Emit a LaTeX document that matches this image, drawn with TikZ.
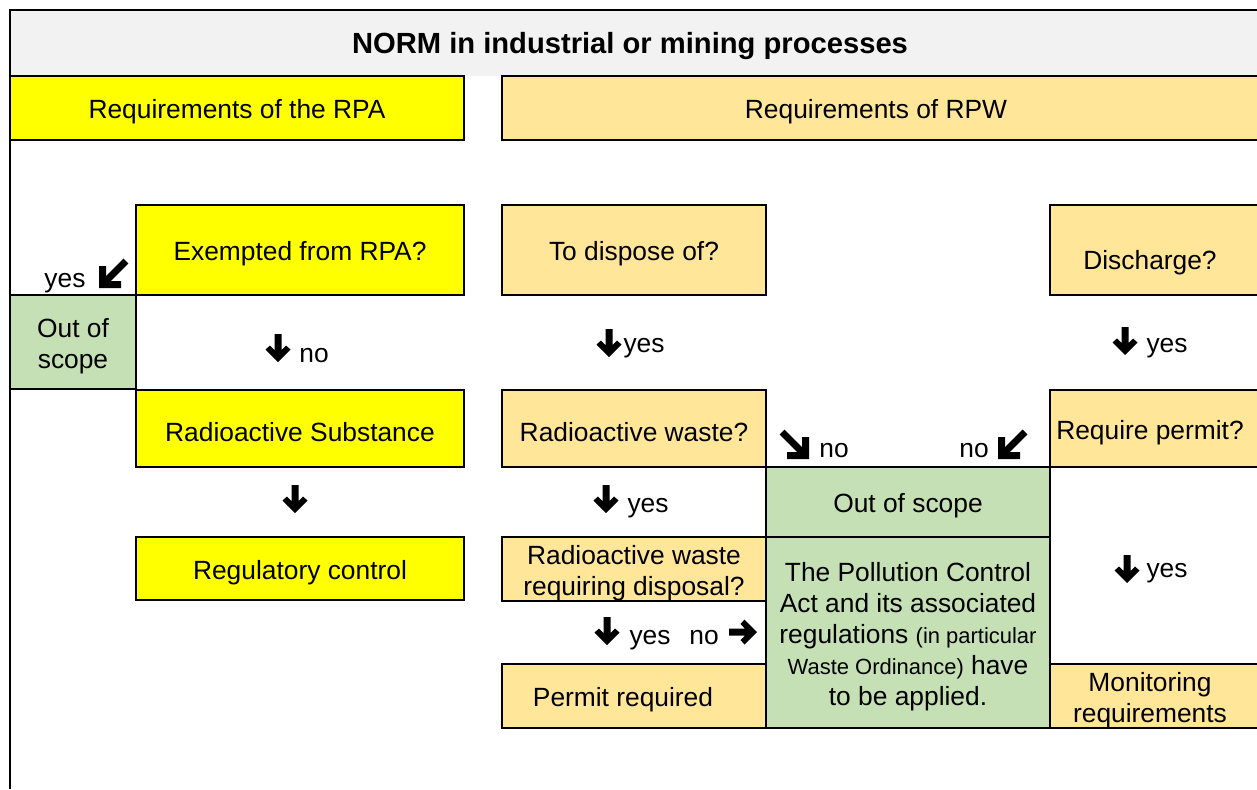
\documentclass[tikz,border=0pt]{standalone}
\usepackage{fontspec}
\setmainfont{Liberation Sans}

\definecolor{rpayellow}{HTML}{FFFF00}
\definecolor{rpworange}{HTML}{FFE699}
\definecolor{scopegreen}{HTML}{C5E0B4}
\definecolor{titlegrey}{HTML}{F2F2F2}

\newcommand{\toppad}{\rule{0pt}{15.4pt}}

\begin{document}
\begin{tikzpicture}[x=0.02cm, y=-0.02cm,
    cell/.style={draw, line width=1.1pt, inner sep=0pt, align=center, font=\fontsize{15}{17.6}\selectfont},
    rpa/.style={cell, fill=rpayellow},
    rpw/.style={cell, fill=rpworange},
    outscope/.style={cell, fill=scopegreen},
    lbl/.style={inner sep=0pt, anchor=base, font=\fontsize{15}{17.6}\selectfont},
    downarrow/.pic={\fill (0,0) -- (12.5,-12.5) -- (8,-16.5) -- (3.5,-12) -- (3.5,-28) -- (-3.5,-28) -- (-3.5,-12) -- (-8,-16.5) -- (-12.5,-12.5) -- cycle;},
    cornerarrow/.pic={\fill (0,0) -- (0,-22) -- (7,-22) -- (7,-7) -- (22,-7) -- (22,0) -- cycle;
        \draw[line width=0.14cm] (4,-4) -- (27,-27);}
]
    \useasboundingbox (0,0) rectangle (1257,789);
    \clip (0,0) rectangle (1257,789);

    % Title band and frame
    \fill[titlegrey] (10,10) rectangle (1262,76);
    \node[font=\bfseries\fontsize{16.6}{20}\selectfont] (title) at (630,46) {NORM in industrial or mining processes};
    \draw[line width=1.1pt] (10,789) -- (10,10) -- (1262,10);

    % Headers
    \node[rpa, minimum width=9.08cm, minimum height=1.28cm] (rpahead) at (237,108) {\toppad Requirements of the RPA};
    \node[rpw, minimum width=15.2cm, minimum height=1.28cm] (rpwhead) at (882,108) {\toppad\hspace*{-0.24cm}Requirements of RPW};

    % RPA column
    \node[rpa, minimum width=6.56cm, minimum height=1.8cm] (exempt) at (300,250) {\toppad Exempted from RPA?};
    \node[outscope, minimum width=2.52cm, minimum height=1.88cm] (outleft) at (73,342) {\toppad Out of\\scope};
    \node[rpa, minimum width=6.56cm, minimum height=1.54cm] (substance) at (300,428.5) {\toppad Radioactive Substance};
    \node[rpa, minimum width=6.56cm, minimum height=1.26cm] (regcontrol) at (300,568.5) {\toppad Regulatory control};

    \node[lbl] (yesexempt) at (65,287) {yes};
    \pic at (99,288) {cornerarrow};
    \pic at (278,362) {downarrow};
    \node[lbl] (noexempt) at (314,362) {no};
    \pic at (295,513) {downarrow};

    % RPW, disposal column
    \node[rpw, minimum width=5.28cm, minimum height=1.8cm] (dispose) at (634,250) {\toppad To dispose of?};
    \node[rpw, minimum width=5.28cm, minimum height=1.54cm] (waste) at (634,428.5) {\toppad Radioactive waste?};
    \node[rpw, minimum width=5.28cm, minimum height=1.28cm] (disposal) at (634,569) {\toppad Radioactive waste\\requiring disposal?};
    \node[rpw, minimum width=5.28cm, minimum height=1.28cm] (permit) at (634,696) {\toppad\hspace*{-0.44cm}Permit required};

    \pic at (609,357) {downarrow};
    \node[lbl] (yesdispose) at (644,352) {yes};
    \pic at (606,513) {downarrow};
    \node[lbl] (yeswaste) at (648,512) {yes};
    \pic at (607,645) {downarrow};
    \node[lbl] (yesdisposal) at (650,644) {yes};
    \node[lbl] (nodisposal) at (704,644) {no};
    \pic[rotate=90] at (757,632) {downarrow};

    % Middle column
    \node[outscope, minimum width=5.68cm, minimum height=1.4cm] (outmid) at (908,502) {\toppad Out of scope};
    \node[outscope, minimum width=5.68cm, minimum height=3.82cm] (pollution) at (908,632.5)
        {\toppad The Pollution Control\\Act and its associated\\regulations {\fontsize{12.5}{17.6}\selectfont(in particular}\\{\fontsize{12.5}{17.6}\selectfont Waste Ordinance)} have\\to be applied.};

    \pic[xscale=-1] at (809,459) {cornerarrow};
    \node[lbl] (nowaste) at (834,457) {no};
    \node[lbl] (nopermit) at (974,457) {no};
    \pic at (998,459) {cornerarrow};

    % Discharge column
    \node[rpw, minimum width=4.24cm, minimum height=1.8cm] (discharge) at (1156,250) {\toppad\hspace*{-0.24cm}\raisebox{-0.18cm}[\height][\depth]{Discharge?}};
    \node[rpw, minimum width=4.24cm, minimum height=1.54cm] (reqpermit) at (1156,428.5) {\toppad\hspace*{-0.24cm}Require permit?};
    \node[rpw, minimum width=4.24cm, minimum height=1.28cm] (monitoring) at (1156,696) {\toppad\hspace*{-0.24cm}Monitoring\\\hspace*{-0.24cm}requirements};

    \pic at (1125,355) {downarrow};
    \node[lbl] (yesdischarge) at (1167,352) {yes};
    \pic at (1127,583) {downarrow};
    \node[lbl] (yesreqpermit) at (1167,577) {yes};
\end{tikzpicture}
\end{document}
